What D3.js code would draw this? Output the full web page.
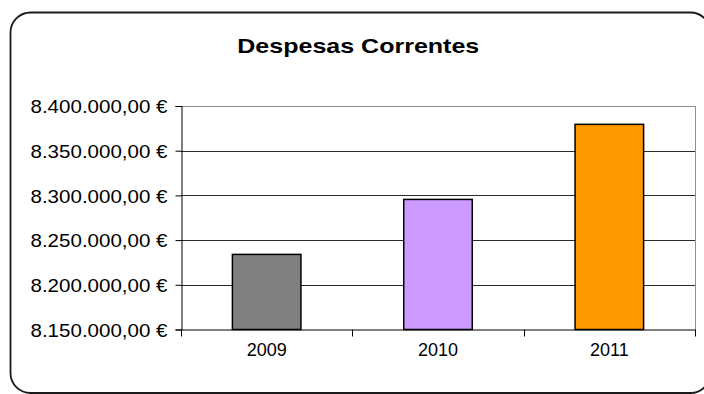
<!DOCTYPE html>
<html>
<head>
<meta charset="utf-8">
<script src="https://cdn.jsdelivr.net/npm/d3@7"></script>
<style>
  html, body { margin: 0; padding: 0; background: #fff; }
  svg { display: block; }
  text { font-family: "Liberation Sans", Arial, sans-serif; fill: #000; }
</style>
</head>
<body>
<svg id="chart" width="704" height="394"></svg>
<script>
// Despesas correntes por ano (€)
const years = ["2009", "2010", "2011"];
const despesas = [8234000, 8295500, 8379500];
const barColors = ["#808080", "#CC99FF", "#FF9900"];
const yTicks = [8150000, 8200000, 8250000, 8300000, 8350000, 8400000];
const chartTitle = "Despesas Correntes";

const svg = d3.select("#chart");

// Portuguese number/currency formatting: 8.400.000,00 €
const pt = d3.formatLocale({ decimal: ",", thousands: ".", grouping: [3], currency: ["", " €"] });
const fmt = pt.format("$,.2f");

const plot = { left: 181, right: 695, top: 106, bottom: 329.5 };

// Rounded outer frame
svg.append("rect")
  .attr("x", 10.5).attr("y", 12.5)
  .attr("width", 700).attr("height", 380.5)
  .attr("rx", 20).attr("ry", 20)
  .attr("fill", "#fff").attr("stroke", "#1a1a1a").attr("stroke-width", 1.8);

// Title
svg.append("text")
  .attr("x", 358.3).attr("y", 52.5)
  .attr("text-anchor", "middle")
  .attr("font-size", 21).attr("font-weight", "bold")
  .attr("textLength", 242).attr("lengthAdjust", "spacingAndGlyphs")
  .text(chartTitle);

const x = d3.scaleBand()
  .domain(years)
  .range([plot.left, plot.right])
  .paddingInner(0.6).paddingOuter(0.3);

const y = d3.scaleLinear()
  .domain([d3.min(yTicks), d3.max(yTicks)])
  .range([plot.bottom, plot.top]);

// Grid lines
svg.append("g").selectAll("line")
  .data(yTicks.filter(t => t > y.domain()[0]))
  .join("line")
  .attr("x1", plot.left).attr("x2", plot.right)
  .attr("y1", d => Math.round(y(d)) + 0.5).attr("y2", d => Math.round(y(d)) + 0.5)
  .attr("stroke", d => d === y.domain()[1] ? "#909090" : "#2a2a2a")
  .attr("stroke-width", 1);

// Right border of the plot area
svg.append("line")
  .attr("x1", plot.right + 0.5).attr("x2", plot.right + 0.5)
  .attr("y1", plot.top).attr("y2", plot.bottom)
  .attr("stroke", "#909090");

// Bars
svg.append("g").selectAll("rect")
  .data(years.map((yr, i) => ({ yr, v: despesas[i], c: barColors[i] })))
  .join("rect")
  .attr("x", d => x(d.yr))
  .attr("y", d => y(d.v))
  .attr("width", x.bandwidth())
  .attr("height", d => plot.bottom - y(d.v))
  .attr("fill", d => d.c)
  .attr("stroke", "#000").attr("stroke-width", 1.5);

// Y axis
const yAxis = svg.append("g")
  .attr("transform", `translate(${plot.left + 0.5},0)`)
  .call(d3.axisLeft(y).tickValues(yTicks).tickFormat(fmt).tickSize(6).tickPadding(8));
yAxis.select(".domain").attr("stroke", "#000");
yAxis.selectAll(".tick line").attr("stroke", "#000");
yAxis.selectAll(".tick text")
  .attr("font-size", 18.5)
  .attr("font-family", "'Liberation Sans', Arial, sans-serif")
  .attr("fill", "#000")
  .attr("dy", "0.36em")
  .attr("textLength", 137).attr("lengthAdjust", "spacingAndGlyphs");

// X axis: labels centered on bands, tick marks between categories
const xAxis = svg.append("g")
  .attr("transform", `translate(0,${plot.bottom})`)
  .call(d3.axisBottom(x).tickSize(0).tickPadding(14));
xAxis.select(".domain").attr("stroke", "#000").attr("d", `M${plot.left},0.5H${plot.right + 0.5}`);
xAxis.selectAll(".tick text")
  .attr("font-size", 18)
  .attr("font-family", "'Liberation Sans', Arial, sans-serif")
  .attr("fill", "#000");

const step = x.step();
const boundaries = d3.range(years.length + 1).map(i => plot.left + i * step);
xAxis.append("g").selectAll("line")
  .data(boundaries)
  .join("line")
  .attr("x1", d => Math.round(d) + 0.5).attr("x2", d => Math.round(d) + 0.5)
  .attr("y1", 0).attr("y2", 7)
  .attr("stroke", "#000");
</script>
</body>
</html>
